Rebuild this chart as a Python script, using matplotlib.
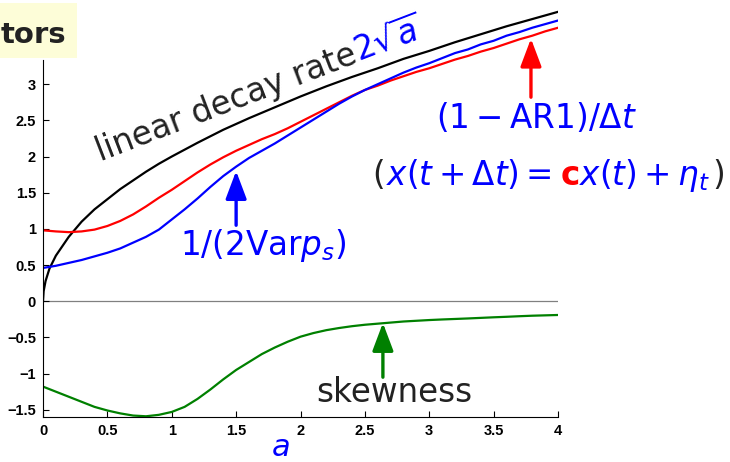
import numpy as np
import matplotlib.pyplot as plt
from matplotlib.patches import Rectangle

# valores
a_black = [0, 0.005, 0.02, 0.05, 0.1, 0.2, 0.3, 0.4, 0.5, 0.6, 0.7, 0.8, 0.9, 1.0,
           1.2, 1.4, 1.6, 1.8, 2.0, 2.2, 2.4, 2.6, 2.8, 3.0, 3.2, 3.4, 3.6, 3.8, 4.0]
decay_rate = [0, 0.14, 0.28, 0.45, 0.63, 0.89, 1.10, 1.27, 1.41, 1.55, 1.67, 1.79, 1.90, 2.0,
              2.19, 2.37, 2.53, 2.68, 2.83, 2.97, 3.10, 3.22, 3.35, 3.46, 3.58, 3.69, 3.80, 3.90, 4.0]

a_grid = np.round(np.arange(0, 4.01, 0.1), 1)
ar1_rate = [0.98, 0.965, 0.955, 0.965, 0.99, 1.04, 1.11, 1.20, 1.31, 1.43,
            1.54, 1.66, 1.78, 1.89, 1.99, 2.08, 2.16, 2.24, 2.31, 2.39,
            2.48, 2.57, 2.66, 2.75, 2.84, 2.92, 2.98, 3.05, 3.11, 3.17,
            3.22, 3.28, 3.34, 3.39, 3.45, 3.50, 3.56, 3.62, 3.67, 3.73, 3.78]
inv_var = [0.46, 0.49, 0.53, 0.57, 0.62, 0.67, 0.73, 0.81, 0.89, 0.99,
           1.13, 1.27, 1.42, 1.58, 1.73, 1.86, 1.98, 2.08, 2.18, 2.29,
           2.40, 2.51, 2.62, 2.73, 2.83, 2.92, 3.00, 3.08, 3.16, 3.23,
           3.29, 3.36, 3.43, 3.48, 3.55, 3.60, 3.67, 3.72, 3.78, 3.83, 3.88]
skewness = [-1.18, -1.25, -1.32, -1.39, -1.46, -1.51, -1.55, -1.58, -1.59, -1.57,
            -1.53, -1.46, -1.35, -1.22, -1.08, -0.95, -0.84, -0.73, -0.64, -0.56,
            -0.49, -0.44, -0.40, -0.37, -0.345, -0.325, -0.31, -0.295, -0.28, -0.27,
            -0.26, -0.252, -0.245, -0.238, -0.23, -0.222, -0.215, -0.207, -0.20, -0.195, -0.19]

xticks = [0, 0.5, 1, 1.5, 2, 2.5, 3, 3.5, 4]
xticklabels = ['0', '0.5', '1', '1.5', '2', '2.5', '3', '3.5', '4']
yticks = [-1.5, -1, -0.5, 0, 0.5, 1, 1.5, 2, 2.5, 3]
yticklabels = ['\u22121.5', '\u22121', '\u22120.5', '0', '0.5', '1', '1.5', '2', '2.5', '3']

gris = '#222222'
fs = 23.5

fig = plt.figure(figsize=(7.3, 4.62), dpi=100)
ax = fig.add_axes([43 / 730, 45 / 462, 515 / 730, 412.4 / 462])
ax.set_xlim(0, 4)
ax.set_ylim(-1.6, 4.1)

for s in ['top', 'right']:
    ax.spines[s].set_visible(False)
ax.spines['left'].set_bounds(-1.6, 3.33)
ax.axhline(0, color='#808080', lw=0.9, zorder=1)

ax.plot(a_black, decay_rate, color='black', lw=1.6)
ax.plot(a_grid, ar1_rate, color='red', lw=1.6)
ax.plot(a_grid, inv_var, color='blue', lw=1.6)
ax.plot(a_grid, skewness, color='green', lw=1.6)

ax.set_xticks(xticks)
ax.set_xticklabels(xticklabels, fontfamily='Liberation Sans', fontweight='bold', fontsize=10.5)
ax.set_yticks(yticks)
ax.set_yticklabels(yticklabels, fontfamily='Liberation Sans', fontweight='bold', fontsize=10.5)
ax.tick_params(direction='in', length=4, width=0.8, pad=5)

ax.text(1.84 / 4, -0.074, '$a$', color='blue', fontsize=22, ha='center', va='center',
        transform=ax.transAxes)

# flechas
def flecha(x, y0, y1, col):
    ax.annotate('', xy=(x, y0), xytext=(x, y1),
                arrowprops=dict(arrowstyle='-|>,head_width=0.32,head_length=0.85',
                                mutation_scale=20, lw=2.4, color=col, shrinkA=0, shrinkB=0))

flecha(2.64, -0.30, -1.05, 'green')
flecha(1.5, 1.80, 1.05, 'blue')
flecha(3.79, 3.63, 2.82, 'red')

ax.text(2.73, -1.26, 'skewness', color=gris, fontsize=fs, ha='center', va='center')
ax.text(1.71, 0.77, r'$1/(2\mathrm{Var}p_s)$', color='blue', fontsize=fs, ha='center', va='center')
ax.text(3.83, 2.53, r'$(1-\mathrm{AR1})/\Delta t$', color='blue', fontsize=fs, ha='center', va='center')

fig.canvas.draw()
rend = fig.canvas.get_renderer()

# texto girado sobre la curva negra
ang = 21
x0, y0 = ax.transData.transform((0.45, 1.93))
tmp = ax.text(0, 0, 'linear decay rate', fontsize=fs)
w = tmp.get_window_extent(rend).width
tmp.remove()
ax.text(0.45, 1.93, 'linear decay rate', color=gris, fontsize=fs, rotation=ang,
        rotation_mode='anchor', ha='left', va='baseline')
x1 = x0 + w * np.cos(np.radians(ang))
y1 = y0 + w * np.sin(np.radians(ang))
ax.text(*ax.transData.inverted().transform((x1, y1)), r'$2\sqrt{a}$', color='blue',
        fontsize=fs, rotation=ang, rotation_mode='anchor', ha='left', va='baseline')

# ecuacion con colores
piezas = [('(', gris, 1), (r'$x(t+\Delta t)=$', 'blue', 9), (r'$\mathbf{c}$', 'red', 0),
          (r'$x(t)+\eta_t$', 'blue', 2), (')', gris, 0)]
px, py = ax.transData.transform((2.555, 1.60))
for txt, col, gap in piezas:
    t = ax.text(*ax.transData.inverted().transform((px, py)), txt, color=col, fontsize=fs,
                ha='left', va='baseline')
    px += t.get_window_extent(rend).width + gap

# recuadro superior
fig.patches.append(Rectangle((0, 1 - 58 / 462), 77 / 730, 55 / 462, transform=fig.transFigure,
                             facecolor='#fdfdd8', edgecolor='none', zorder=0))
fig.text(66 / 730, 1 - 43 / 462, 'tors', fontsize=21, fontweight='bold', color=gris,
         ha='right', va='baseline')

fig.savefig('out.png', dpi=100)
